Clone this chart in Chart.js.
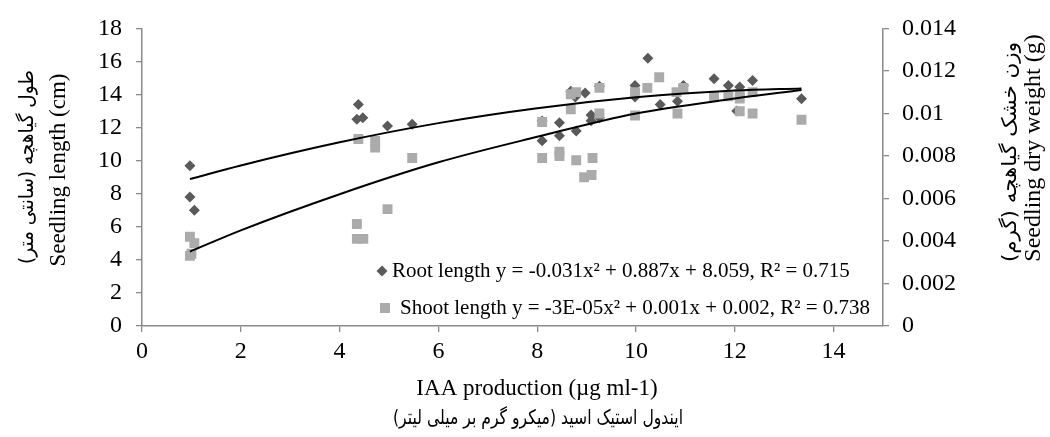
<!DOCTYPE html>
<html>
<head>
<meta charset="utf-8">
<script src="https://cdn.jsdelivr.net/npm/chart.js@4.4.1/dist/chart.umd.min.js"></script>
<style>
  html, body { margin: 0; padding: 0; background: #ffffff; }
  #wrap { width: 1050px; height: 437px; position: relative; }
</style>
</head>
<body>
<div id="wrap"><canvas id="c" width="1050" height="437"></canvas></div>
<script>
// ---- data ----
const rootX = [0.97, 0.97, 1.06, 4.38, 4.35, 4.47, 4.97, 5.47, 8.10, 8.10, 8.45, 8.45, 8.79, 8.68, 8.77, 8.97, 9.26, 9.09, 9.09, 9.26, 9.98, 9.98, 10.24, 10.49, 10.96, 10.84, 11.58, 11.87, 12.10, 12.36, 12.04, 13.35];
const rootY = [9.7, 7.8, 7.0, 13.4, 12.5, 12.6, 12.1, 12.2, 12.4, 11.2, 12.3, 11.5, 11.8, 14.2, 13.85, 14.1, 14.5, 12.76, 12.42, 12.6, 14.55, 13.85, 16.2, 13.4, 14.55, 13.6, 14.95, 14.55, 14.45, 14.85, 13.0, 13.75];

const shootX = [0.97, 1.06, 0.97, 1.0, 4.38, 4.72, 4.72, 5.47, 4.97, 4.35, 4.35, 4.48, 8.10, 8.10, 8.45, 8.45, 8.79, 9.12, 8.95, 9.10, 8.68, 8.79, 8.68, 9.26, 9.26, 9.98, 10.23, 9.98, 10.47, 10.96, 10.82, 10.84, 11.58, 11.87, 12.10, 12.10, 12.36, 12.10, 12.36, 13.35];
const shootY = [0.0042, 0.0039, 0.0033, 0.0034, 0.0088, 0.0087, 0.0084, 0.0079, 0.0055, 0.0048, 0.0041, 0.0041, 0.0096, 0.0079, 0.0082, 0.0080, 0.0078, 0.0079, 0.0070, 0.0071, 0.0109, 0.0110, 0.0102, 0.0112, 0.0100, 0.0110, 0.0112, 0.0099, 0.0117, 0.0112, 0.0110, 0.0100, 0.0108, 0.0108, 0.0109, 0.0107, 0.0110, 0.0101, 0.0100, 0.0097];

// trendline curves
const trendX = [0.97, 2, 4, 6, 8, 10, 12, 13.35];
const rootTrend = [8.89, 9.71, 11.11, 12.27, 13.17, 13.83, 14.24, 14.37];
const shootTrend = [0.0035, 0.0045, 0.0062, 0.0077, 0.0089, 0.0100, 0.0107, 0.0111];

const xTicks = [0, 2, 4, 6, 8, 10, 12, 14];
const yTicks = [0, 2, 4, 6, 8, 10, 12, 14, 16, 18];
const y2Ticks = [0, 0.002, 0.004, 0.006, 0.008, 0.01, 0.012, 0.014];

const legendLabels = [
  'Root length y = -0.031x² + 0.887x + 8.059, R² = 0.715',
  'Shoot length y = -3E-05x² + 0.001x + 0.002, R² = 0.738'
];
const xTitle = ['IAA production (µg ml-1)', 'ایندول استیک اسید (میکرو گرم بر میلی لیتر)'];
const yTitle = ['طول گیاهچه (سانتی متر)', 'Seedling length (cm)'];
const y2Title = ['وزن خشک گیاهچه (گرم)', 'Seedling dry weight (g)'];

// ---- styling ----
const SERIF = "'Liberation Serif', 'Times New Roman', serif";
const FA = "'DejaVu Sans', 'Noto Sans', sans-serif";
const ROOT_COLOR = '#5a5a5a';
const SHOOT_COLOR = '#ababab';
const AXIS_COLOR = '#8a8a8a';

const pts = (xs, ys) => xs.map((x, i) => ({ x: x, y: ys[i] }));
const setTicks = list => scale => { scale.ticks = list.map(v => ({ value: v })); };

// draws a text line centred at (x, y), rotated by angle, squeezed to a target width
function drawLine(ctx, text, x, y, font, dir, angle, targetW) {
  ctx.save();
  ctx.translate(x, y);
  ctx.rotate(angle);
  ctx.font = font;
  ctx.direction = dir;
  ctx.textAlign = 'center';
  ctx.textBaseline = 'middle';
  if (targetW) {
    const w = ctx.measureText(text).width;
    ctx.scale(targetW / w, 1);
  }
  ctx.fillText(text, 0, 0);
  ctx.restore();
}

const titlesPlugin = {
  id: 'titles',
  afterDraw(chart) {
    const ctx = chart.ctx;
    ctx.save();
    ctx.fillStyle = '#000';
    // x title
    drawLine(ctx, xTitle[0], 537, 389, '23px ' + SERIF, 'ltr', 0, 0);
    drawLine(ctx, xTitle[1], 538, 419, '20px ' + FA, 'rtl', 0, 290);
    // y titles
    drawLine(ctx, yTitle[0], 28, 167, '20px ' + FA, 'rtl', -Math.PI / 2, 194);
    drawLine(ctx, yTitle[1], 59, 170, '23px ' + SERIF, 'ltr', -Math.PI / 2, 0);
    drawLine(ctx, y2Title[0], 1011, 152, '20px ' + FA, 'rtl', -Math.PI / 2, 220);
    drawLine(ctx, y2Title[1], 1034, 148, '24px ' + SERIF, 'ltr', -Math.PI / 2, 0);

    // legend
    const ly = [271, 308];
    ctx.fillStyle = ROOT_COLOR;
    const dx = 382, dy = ly[0];
    ctx.beginPath();
    ctx.moveTo(dx - 5.5, dy); ctx.lineTo(dx, dy - 5.5);
    ctx.lineTo(dx + 5.5, dy); ctx.lineTo(dx, dy + 5.5);
    ctx.closePath(); ctx.fill();
    ctx.fillStyle = SHOOT_COLOR;
    ctx.fillRect(385 - 5, ly[1] - 5, 10, 10);
    ctx.fillStyle = '#000';
    ctx.font = '21px ' + SERIF;
    ctx.textAlign = 'left';
    ctx.textBaseline = 'middle';
    ctx.direction = 'ltr';
    ctx.fillText(legendLabels[0], 392, ly[0]);
    ctx.fillText(legendLabels[1], 400, ly[1]);
    ctx.restore();
  }
};

new Chart(document.getElementById('c'), {
  type: 'scatter',
  data: {
    datasets: [
      {
        label: 'Root length', data: pts(rootX, rootY), yAxisID: 'y', order: 3,
        pointStyle: 'rectRot', pointRadius: 5.5, pointHoverRadius: 5.5,
        backgroundColor: ROOT_COLOR, borderColor: ROOT_COLOR, borderWidth: 0
      },
      {
        label: 'Shoot length', data: pts(shootX, shootY), yAxisID: 'y1', order: 2,
        pointStyle: 'rect', pointRadius: 7, pointHoverRadius: 7,
        backgroundColor: SHOOT_COLOR, borderColor: SHOOT_COLOR, borderWidth: 0
      },
      {
        label: 'Root trend', data: pts(trendX, rootTrend), yAxisID: 'y', order: 1,
        showLine: true, pointRadius: 0, borderColor: '#000', borderWidth: 2,
        cubicInterpolationMode: 'monotone', fill: false
      },
      {
        label: 'Shoot trend', data: pts(trendX, shootTrend), yAxisID: 'y1', order: 0,
        showLine: true, pointRadius: 0, borderColor: '#000', borderWidth: 2,
        cubicInterpolationMode: 'monotone', fill: false
      }
    ]
  },
  options: {
    responsive: false,
    animation: false,
    devicePixelRatio: 1,
    layout: { padding: { top: 21, left: 0, right: 0, bottom: 0 } },
    plugins: { legend: { display: false }, tooltip: { enabled: false }, title: { display: false } },
    scales: {
      x: {
        type: 'linear', min: 0, max: 15, position: 'bottom',
        afterBuildTicks: setTicks(xTicks),
        afterFit: s => { s.height = 111; },
        grid: { display: true, drawOnChartArea: false, drawTicks: true, tickLength: 6, color: AXIS_COLOR, lineWidth: 1.3 },
        border: { display: true, color: AXIS_COLOR, width: 1.5 },
        ticks: { color: '#000', font: { family: SERIF, size: 24 }, padding: 5, maxRotation: 0, autoSkip: false }
      },
      y: {
        type: 'linear', min: 0, max: 18, position: 'left',
        afterBuildTicks: setTicks(yTicks),
        afterFit: s => { s.width = 142; },
        grid: { display: true, drawOnChartArea: false, drawTicks: true, tickLength: 6, color: AXIS_COLOR, lineWidth: 1.3 },
        border: { display: true, color: AXIS_COLOR, width: 1.5 },
        ticks: { color: '#000', font: { family: SERIF, size: 24 }, padding: 14, autoSkip: false }
      },
      y1: {
        type: 'linear', min: 0, max: 0.014, position: 'right',
        afterBuildTicks: setTicks(y2Ticks),
        afterFit: s => { s.width = 167; },
        grid: { display: true, drawOnChartArea: false, drawTicks: true, tickLength: 6, color: AXIS_COLOR, lineWidth: 1.3 },
        border: { display: true, color: AXIS_COLOR, width: 1.5 },
        ticks: {
          color: '#000', font: { family: SERIF, size: 24 }, padding: 13, autoSkip: false,
          callback: v => String(Number(v.toFixed(3)))
        }
      }
    }
  },
  plugins: [titlesPlugin]
});
</script>
</body>
</html>
